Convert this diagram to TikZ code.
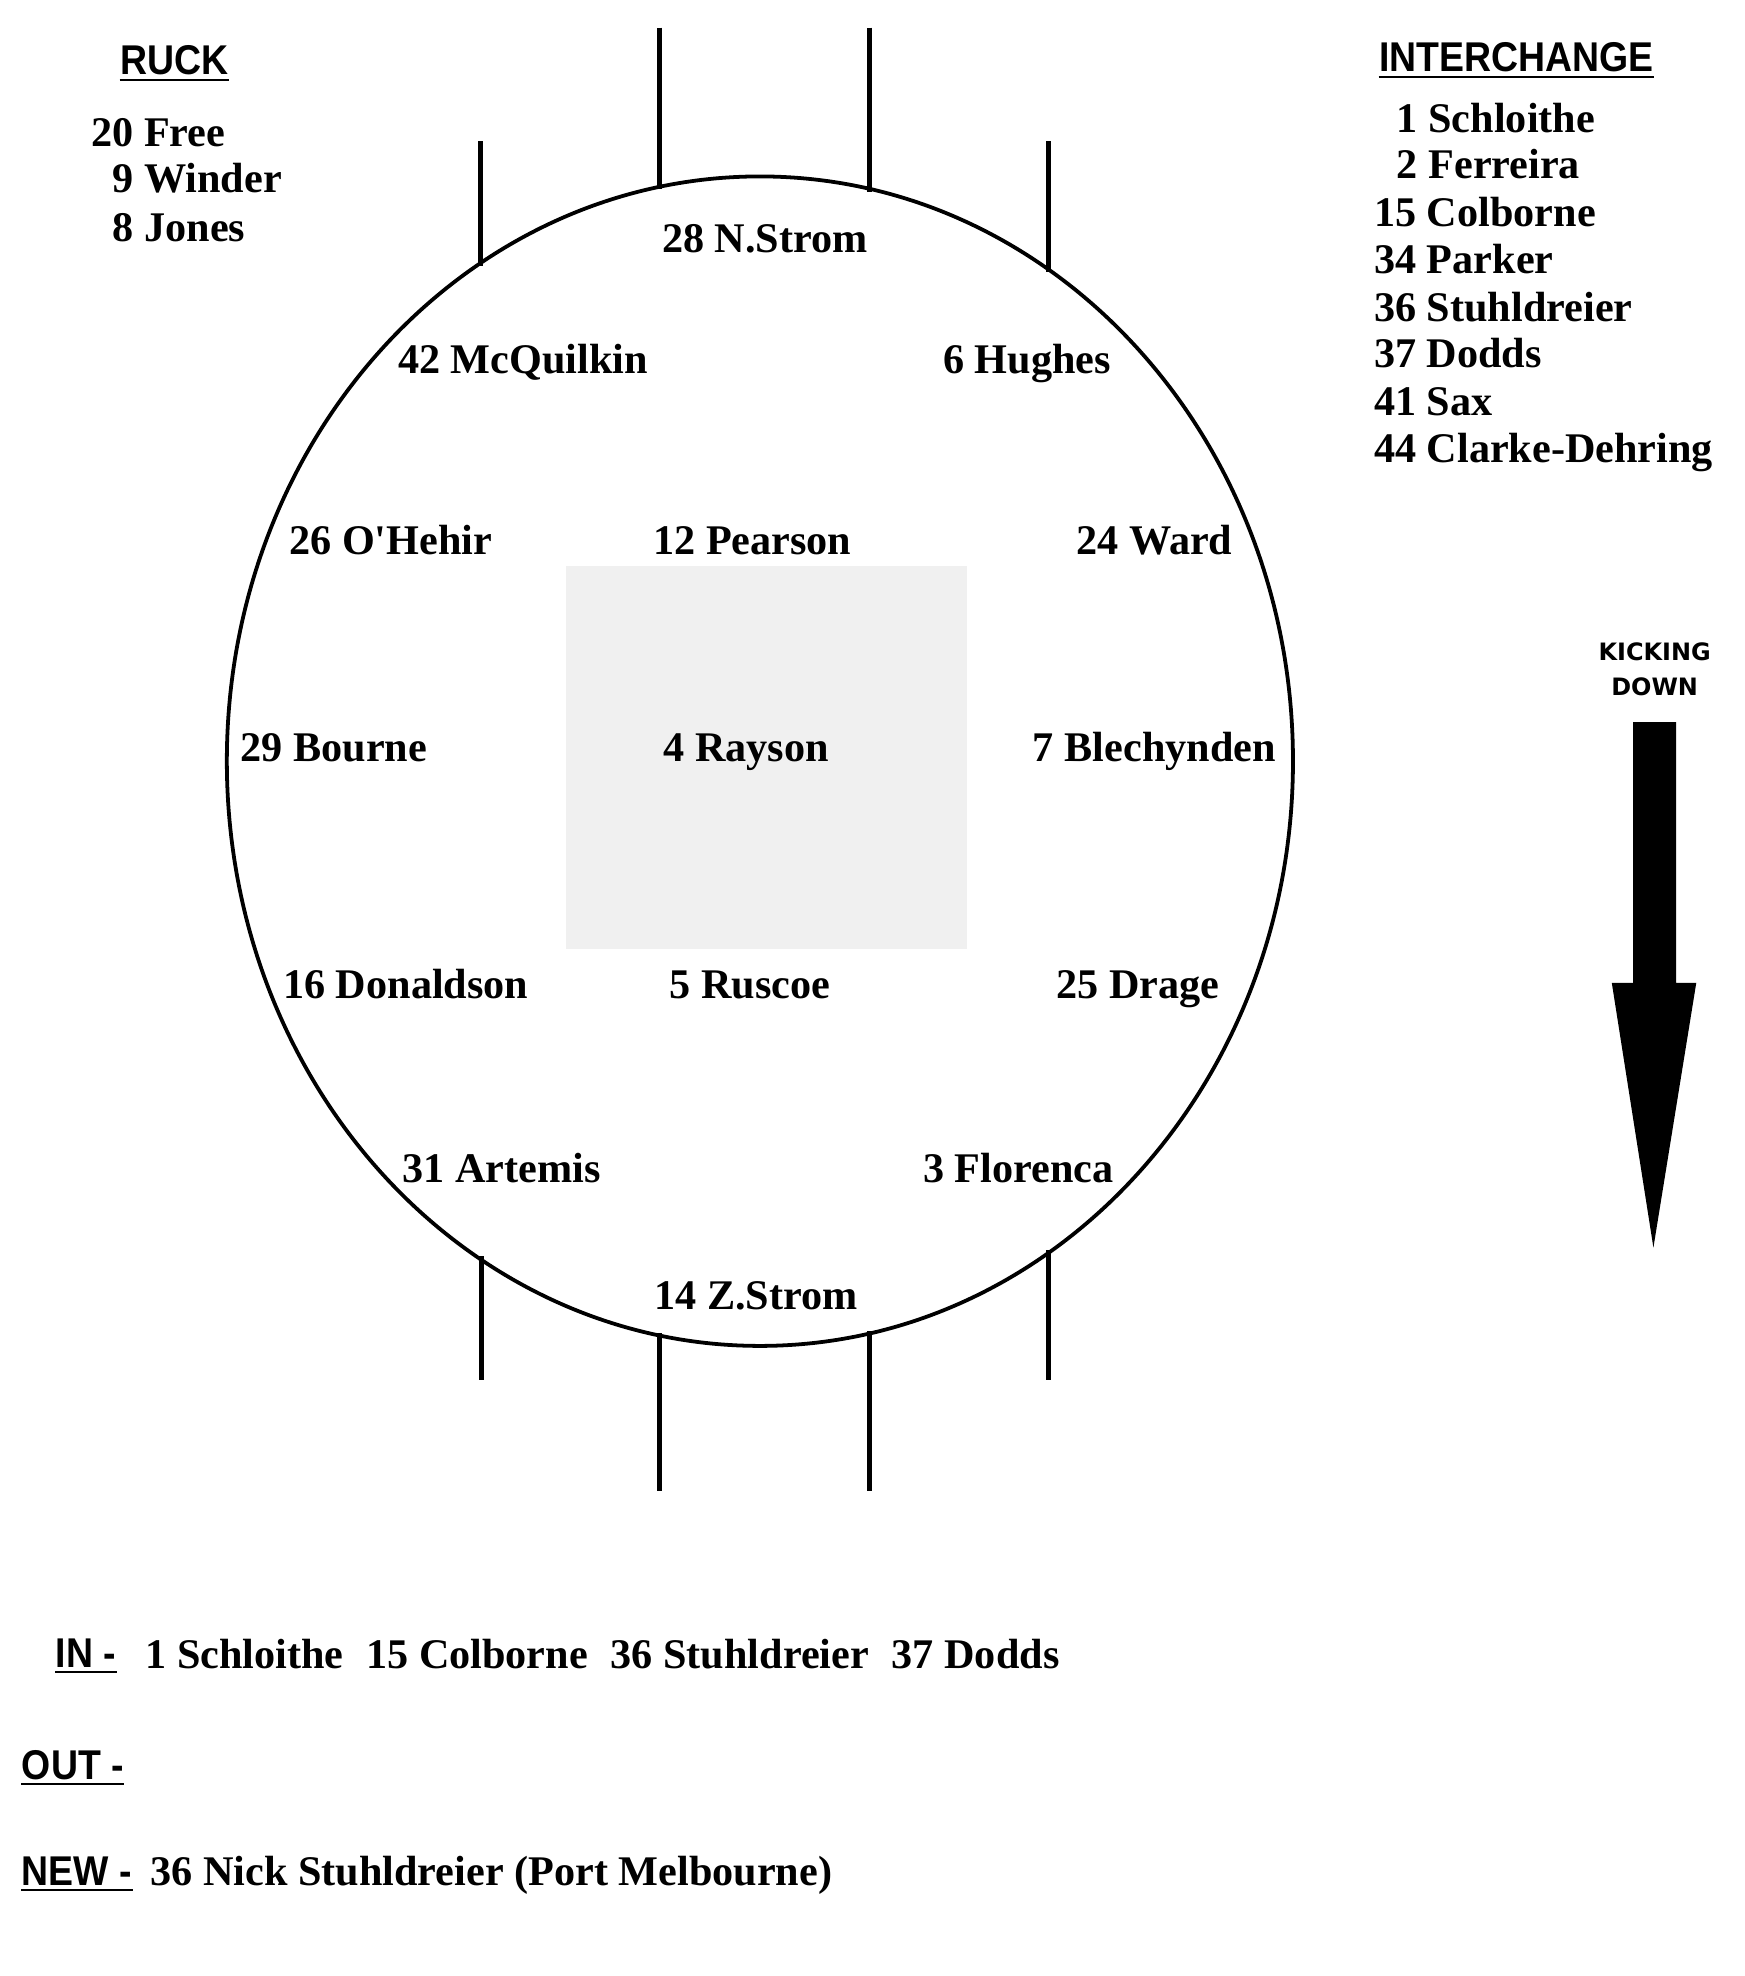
\documentclass[tikz,border=0pt]{standalone}
\usepackage{fontspec}
\newfontfamily\plrfont{Liberation Serif}
\newfontfamily\hdrfont[FakeStretch=0.9]{Liberation Sans}
\newfontfamily\kickfont{DejaVu Sans}
\definecolor{boxgray}{RGB}{240,240,240}
\begin{document}
\begin{tikzpicture}[x=0.5pt,y=-0.5pt,
 plr/.style={font=\plrfont\bfseries\fontsize{16.75}{20}\selectfont, inner sep=0pt, anchor=base},
 lst/.style={plr, anchor=base west},
 hdr/.style={font=\hdrfont\bfseries\fontsize{16.5}{20}\selectfont, inner sep=0pt, anchor=base west},
 uline/.style={line width=0.8pt},
 post/.style={line width=2pt},
 ovalline/.style={line width=1.5pt}]
\useasboundingbox (0,0) rectangle (1384,1568);
% centre square
\fill[boxgray] (449,449) rectangle (767,753);
% oval
\draw[ovalline] (603,604) ellipse [x radius=211.5pt, y radius=232pt];
% goal posts
\draw[post] (523,22) -- (523,150);
\draw[post] (690,22) -- (690,152);
\draw[post] (381,112) -- (381,211);
\draw[post] (832,112) -- (832,216);
\draw[post] (523,1058) -- (523,1183);
\draw[post] (690,1056) -- (690,1183);
\draw[post] (382,997) -- (382,1095);
\draw[post] (832,992) -- (832,1095);
% players
\node[plr] (nstrom) at (607,200) {28 N.Strom};
\node[plr] (mcq) at (415,296) {42 McQuilkin};
\node[plr] (hughes) at (815,296) {6 Hughes};
\node[plr] (ohehir) at (310,440) {26 O'Hehir};
\node[plr] (pearson) at (597,440) {12 Pearson};
\node[plr] (ward) at (916,440) {24 Ward};
\node[plr] (bourne) at (265,604) {29 Bourne};
\node[plr] (rayson) at (592,604) {4 Rayson};
\node[plr] (blech) at (916,604) {7 Blechynden};
\node[plr] (donald) at (322,792) {16 Donaldson};
\node[plr] (ruscoe) at (595,792) {5 Ruscoe};
\node[plr] (drage) at (903,792) {25 Drage};
\node[plr] (artemis) at (398,938) {31 Artemis};
\node[plr] (florenca) at (808,938) {3 Florenca};
\node[plr] (zstrom) at (600,1039) {14 Z.Strom};
% ruck
\node[hdr] (ruck) at (95,59) {RUCK};
\draw[uline] ([yshift=-2.2pt]ruck.base west) -- ([yshift=-2.2pt]ruck.base east);
\node[lst] (r1) at (72,116) {20 Free};
\node[lst] (r2) at (89,153) {9 Winder};
\node[lst] (r3) at (89,192) {8 Jones};
% interchange
\node[hdr] (inter) at (1094,57) {INTERCHANGE};
\draw[uline] ([yshift=-2pt]inter.base west) -- ([yshift=-2pt]inter.base east);
\node[lst] (i1) at (1108,105) {1 Schloithe};
\node[lst] (i2) at (1108,142) {2 Ferreira};
\node[lst] (i3) at (1090,180) {15 Colborne};
\node[lst] (i4) at (1090,217) {34 Parker};
\node[lst] (i5) at (1090,255) {36 Stuhldreier};
\node[lst] (i6) at (1090,292) {37 Dodds};
\node[lst] (i7) at (1090,330) {41 Sax};
\node[lst] (i8) at (1090,367) {44 Clarke-Dehring};
% kicking down
\node[font=\kickfont\bfseries\fontsize{9.5}{14}\selectfont, align=center, inner sep=0pt] (kick) at (1313,531) {KICKING\\DOWN};
\fill (1296,573) -- (1330,573) -- (1330,780) -- (1346,780) -- (1312,990) -- (1279,780) -- (1296,780) -- cycle;
% in / out / new
\node[hdr] (inlab) at (44,1323) {IN -};
\draw[uline] ([yshift=-2pt]inlab.base west) -- ([yshift=-2pt]inlab.base east);
\node[lst] (intext) at (115,1324) {1 Schloithe\hskip9pt 15 Colborne\hskip9pt 36 Stuhldreier\hskip9pt 37 Dodds};
\node[hdr] (outlab) at (17,1412) {OUT -};
\draw[uline] ([yshift=-2pt]outlab.base west) -- ([yshift=-2pt]outlab.base east);
\node[hdr] (newlab) at (17,1496) {NEW -};
\draw[uline] ([yshift=-2pt]newlab.base west) -- ([yshift=-2pt]newlab.base east);
\node[lst] (newtext) at (119,1496) {36 Nick Stuhldreier (Port Melbourne)};
\end{tikzpicture}
\end{document}
